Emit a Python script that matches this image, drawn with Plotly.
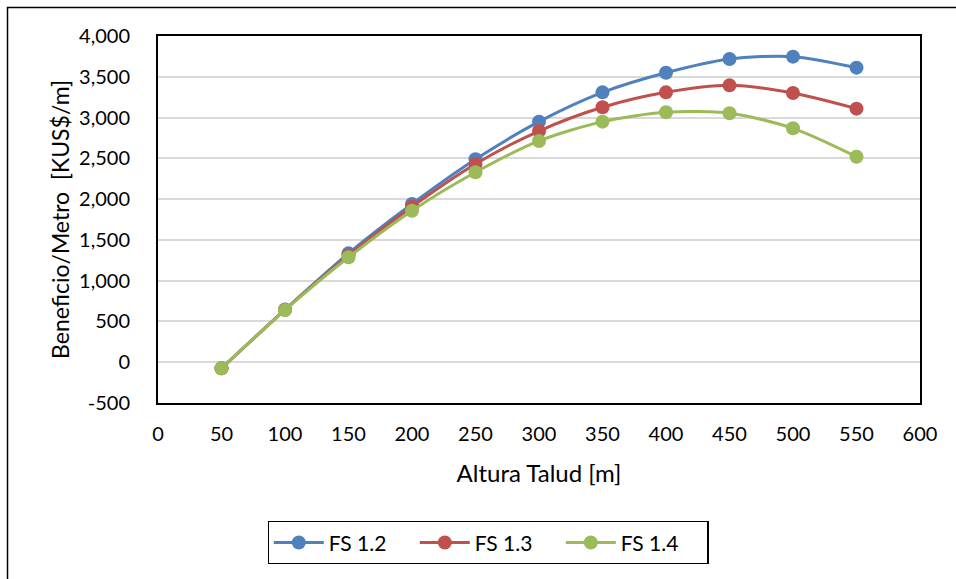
import plotly.graph_objects as go

# Slope height [m] and profit per metre [KUS$/m] for three safety factors
altura = [50, 100, 150, 200, 250, 300, 350, 400, 450, 500, 550]
fs_12 = [-75, 645, 1335, 1940, 2488, 2950, 3309, 3550, 3718, 3747, 3612]
fs_13 = [-75, 643, 1310, 1907, 2431, 2835, 3126, 3309, 3395, 3301, 3109]
fs_14 = [-75, 640, 1287, 1858, 2329, 2713, 2950, 3065, 3052, 2868, 2520]

y_ticks = [-500, 0, 500, 1000, 1500, 2000, 2500, 3000, 3500, 4000]
y_labels = ["-500", "0", "500", "1,000", "1,500", "2,000", "2,500", "3,000", "3,500", "4,000"]

series = [("FS 1.2", fs_12, "#4f81bd"),
          ("FS 1.3", fs_13, "#c0504d"),
          ("FS 1.4", fs_14, "#9bbb59")]

W, H = 956, 579
ML, MR, MT, MB = 158, 36, 36, 176
FONT = "Lato"

fig = go.Figure()
for name, vals, color in series:
    fig.add_trace(go.Scatter(
        x=altura, y=vals, name=name, mode="lines+markers",
        line=dict(color=color, width=3, shape="spline", smoothing=0.8),
        marker=dict(color=color, size=14, symbol="circle"),
    ))

# outer chart frame (top and left edges visible in the window)
pw, ph = W - ML - MR, H - MT - MB
fx0 = (7.5 - ML) / pw
fx1 = (W + 5 - ML) / pw
fy1 = (H - 7.5 - MB) / ph
fy0 = (-5 - MB) / ph
fig.add_shape(type="rect", xref="paper", yref="paper",
              x0=fx0, x1=fx1, y0=fy0, y1=fy1,
              line=dict(color="black", width=1.5), layer="below")

fig.update_layout(
    width=W, height=H,
    margin=dict(l=ML, r=MR, t=MT, b=MB),
    paper_bgcolor="white", plot_bgcolor="white",
    font=dict(family=FONT, size=20, color="black"),
    showlegend=True,
    legend=dict(
        orientation="h", x=(488 - ML) / pw, xanchor="center",
        y=(H - MB - 521) / ph, yanchor="top",
        bordercolor="black", borderwidth=1.3,
        font=dict(family=FONT, size=21, color="black"),
        itemwidth=50, entrywidth=81, tracegroupgap=0,
    ),
    xaxis=dict(
        range=[0, 600], tick0=0, dtick=50,
        showgrid=False, zeroline=False,
        showline=True, linecolor="black", linewidth=2, mirror=True,
        ticks="", ticklabelstandoff=12,
        tickfont=dict(family=FONT, size=20),
        title=dict(text="Altura Talud [m]", font=dict(family=FONT, size=24), standoff=21),
    ),
    yaxis=dict(
        range=[-500, 4000], tickvals=y_ticks, ticktext=y_labels,
        showgrid=True, gridcolor="#d9d9d9", gridwidth=1.5,
        zeroline=False,
        showline=True, linecolor="black", linewidth=2, mirror=True,
        ticks="", ticklabelstandoff=22,
        tickfont=dict(family=FONT, size=20),
        title=dict(text="Beneficio/Metro  [KUS$/m]", font=dict(family=FONT, size=23), standoff=3),
    ),
)

fig.write_html("out.html")
